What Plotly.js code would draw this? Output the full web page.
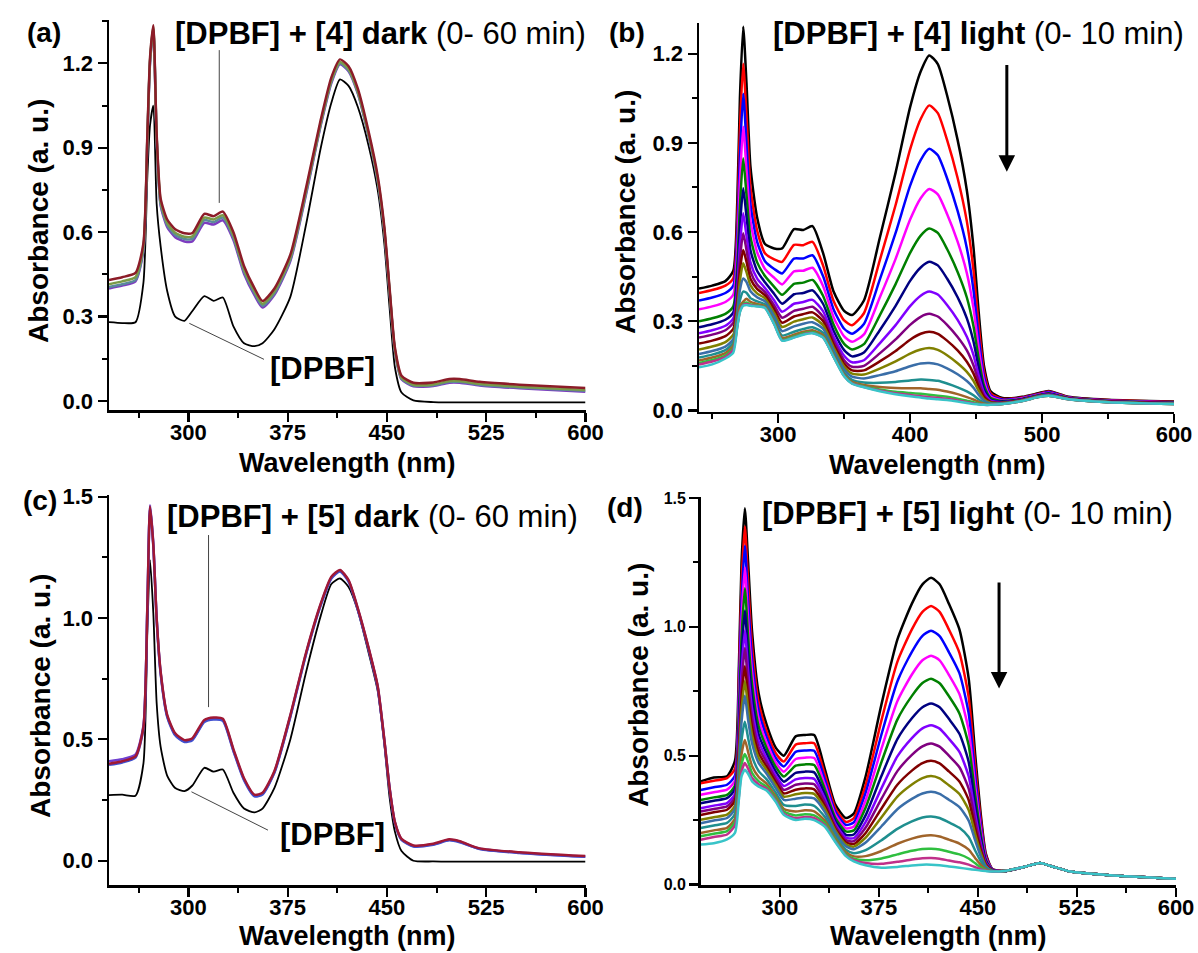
<!DOCTYPE html>
<html>
<head>
<meta charset="utf-8">
<script src="https://cdn.plot.ly/plotly-3.0.1.min.js"></script>
<style>html,body{margin:0;padding:0;background:#fff;}#chart{width:1198px;height:953px;}</style>
</head>
<body>
<div id="chart"></div>
<script>
// Wavelength grid (nm) shared by all spectra
const wavelength = [240, 250, 260, 266, 269, 271, 273.5, 276, 279, 284, 290, 297, 303, 312, 319, 326, 334, 342, 350, 356, 365, 377, 389, 400, 408, 414.5, 421, 428, 436, 443, 448, 452, 456, 461, 470, 485, 497, 505, 520, 550, 600];

// (a) [DPBF] + [4] dark
const a_dpbf   = [.28, .277, .28, .42, .80, .98, 1.05, .70, .55, .39, .30, .285, .32, .373, .356, .368, .265, .205, .195, .205, .255, .37, .63, .90, 1.06, 1.143, 1.12, 1.045, .91, .75, .56, .33, .12, .03, .002, -.004, -.005, -.005, -.005, -.005, -.005];
const a_purple = [.40, .41, .425, .535, .93, 1.20, 1.32, .93, .695, .618, .582, .567, .567, .633, .627, .642, .572, .452, .375, .332, .377, .497, .737, .98, 1.13, 1.197, 1.172, 1.092, .942, .782, .602, .385, .177, .077, .052, .053, .065, .065, .055, .045, .033];
const a_blue   = [.405, .415, .43, .54, .935, 1.205, 1.325, .935, .70, .625, .59, .576, .576, .643, .636, .652, .58, .46, .383, .338, .383, .503, .743, .985, 1.135, 1.20, 1.175, 1.095, .945, .785, .605, .388, .18, .08, .055, .056, .068, .068, .058, .048, .036];
const a_green  = [.415, .425, .44, .55, .94, 1.21, 1.33, .94, .71, .633, .598, .584, .585, .652, .645, .66, .588, .468, .39, .345, .39, .51, .75, .99, 1.14, 1.205, 1.18, 1.10, .95, .79, .61, .392, .183, .083, .058, .059, .071, .071, .061, .051, .039];
const a_wine   = [.43, .44, .455, .56, .95, 1.22, 1.335, .95, .72, .645, .61, .596, .597, .665, .657, .673, .60, .48, .40, .355, .40, .52, .76, 1.00, 1.15, 1.214, 1.19, 1.11, .96, .80, .62, .40, .19, .09, .065, .066, .078, .078, .068, .058, .046];

// (c) [DPBF] + [5] dark
const c_dpbf   = [.27, .272, .268, .40, .95, 1.239, 1.02, .65, .47, .35, .30, .287, .31, .383, .367, .376, .28, .215, .199, .215, .30, .50, .78, 1.01, 1.14, 1.163, 1.128, 1.03, .86, .70, .48, .26, .12, .04, .0, -.003, -.004, -.004, -.004, -.004, -.004];
const c_purple = [.41, .418, .437, .555, 1.05, 1.465, 1.305, .996, .776, .596, .52, .492, .5, .575, .586, .581, .455, .336, .268, .276, .366, .596, .856, 1.056, 1.166, 1.196, 1.153, 1.037, .877, .716, .497, .298, .158, .088, .061, .068, .086, .078, .049, .033, .017];
const c_blue   = [.395, .405, .425, .545, 1.045, 1.455, 1.295, .995, .772, .592, .517, .489, .497, .572, .582, .577, .452, .332, .265, .273, .363, .593, .853, 1.053, 1.163, 1.192, 1.15, 1.034, .874, .714, .495, .296, .156, .086, .059, .066, .084, .076, .048, .032, .016];
const c_wine   = [.40, .41, .43, .55, 1.05, 1.46, 1.30, 1.0, .78, .60, .525, .497, .505, .58, .59, .585, .46, .34, .272, .28, .37, .60, .86, 1.06, 1.17, 1.198, 1.156, 1.04, .88, .72, .50, .30, .16, .09, .063, .07, .088, .08, .051, .035, .019];

// (b) [DPBF] + [4] light, 0-10 min (top to bottom)
const b_black   = [.41, .42, .435, .47, .70, 1.05, 1.29, 1.10, .82, .65, .56, .545, .545, .61, .607, .62, .53, .40, .335, .321, .37, .58, .80, 1.02, 1.14, 1.194, 1.165, 1.06, .91, .74, .55, .33, .15, .065, .042, .046, .058, .066, .046, .036, .03];
const b_red     = [.395, .405, .42, .445, .639, .945, 1.166, .991, .752, .606, .529, .508, .500, .557, .556, .567, .488, .368, .303, .287, .327, .505, .691, .878, .980, 1.026, 1.000, .910, .782, .636, .473, .285, .131, .058, .039, .044, .056, .064, .045, .035, .029];
const b_blue    = [.37, .38, .395, .42, .586, .854, 1.065, .897, .693, .568, .502, .476, .461, .511, .511, .522, .452, .340, .275, .258, .291, .440, .597, .756, .842, .880, .858, .781, .671, .546, .406, .246, .114, .052, .037, .042, .054, .062, .044, .034, .028];
const b_magenta = [.34, .35, .365, .39, .537, .770, .954, .810, .638, .533, .476, .446, .424, .468, .470, .480, .419, .314, .249, .231, .256, .380, .510, .642, .714, .745, .727, .661, .568, .462, .345, .209, .099, .047, .034, .041, .053, .060, .043, .033, .027];
const b_green   = [.30, .31, .325, .35, .488, .687, .848, .725, .584, .499, .452, .416, .389, .426, .430, .439, .386, .289, .224, .205, .223, .320, .425, .530, .588, .612, .597, .543, .466, .380, .284, .174, .084, .042, .032, .039, .051, .058, .042, .032, .026];
const b_navy    = [.28, .29, .305, .33, .448, .617, .747, .652, .539, .470, .431, .392, .359, .391, .395, .404, .359, .268, .203, .182, .195, .270, .352, .436, .481, .500, .488, .444, .381, .310, .233, .144, .071, .037, .030, .038, .050, .056, .041, .031, .025];
const b_violet  = [.26, .27, .285, .31, .411, .555, .663, .587, .498, .444, .412, .370, .332, .359, .365, .372, .334, .249, .184, .162, .169, .226, .287, .351, .386, .400, .390, .355, .305, .248, .187, .117, .060, .033, .028, .036, .049, .055, .040, .030, .024];
const b_purple  = [.245, .255, .27, .295, .384, .508, .596, .539, .468, .424, .398, .353, .312, .335, .342, .349, .315, .234, .169, .147, .150, .192, .239, .288, .315, .325, .316, .288, .247, .202, .152, .097, .051, .030, .027, .035, .048, .054, .040, .030, .024];
const b_darkred = [.225, .235, .25, .275, .362, .470, .54, .500, .443, .409, .387, .340, .295, .316, .324, .330, .301, .223, .158, .135, .135, .165, .200, .238, .258, .265, .258, .235, .202, .164, .125, .080, .045, .028, .026, .035, .048, .053, .040, .030, .024];
const b_olive   = [.205, .215, .23, .255, .342, .436, .495, .465, .421, .394, .377, .327, .281, .299, .307, .313, .287, .212, .147, .124, .121, .141, .165, .191, .205, .210, .204, .186, .159, .130, .100, .066, .038, .026, .025, .034, .047, .052, .039, .029, .023];
const b_steel   = [.19, .20, .215, .24, .324, .405, .444, .432, .401, .381, .367, .317, .267, .283, .292, .297, .275, .203, .138, .114, .108, .119, .132, .149, .158, .160, .155, .142, .122, .099, .077, .052, .033, .024, .024, .033, .046, .052, .039, .029, .023];
const b_teal    = [.178, .188, .203, .228, .303, .370, .40, .396, .378, .367, .357, .304, .252, .265, .274, .280, .261, .192, .127, .103, .094, .093, .096, .101, .104, .103, .100, .091, .078, .064, .051, .037, .026, .022, .023, .033, .046, .051, .038, .028, .022];
const b_brown   = [.168, .178, .193, .218, .292, .350, .366, .376, .365, .358, .351, .297, .244, .255, .265, .270, .253, .186, .121, .096, .086, .079, .076, .075, .075, .072, .070, .064, .055, .045, .037, .029, .023, .020, .022, .032, .045, .05, .038, .028, .022];
const b_green2  = [.16, .17, .185, .21, .285, .334, .358, .363, .357, .353, .347, .293, .238, .249, .259, .264, .248, .182, .117, .093, .081, .071, .063, .059, .056, .053, .050, .046, .040, .033, .028, .023, .020, .019, .022, .032, .045, .05, .038, .028, .022];
const b_pink    = [.155, .165, .18, .205, .282, .333, .355, .358, .354, .351, .346, .291, .236, .246, .256, .261, .246, .181, .116, .091, .079, .067, .058, .052, .048, .045, .043, .039, .034, .028, .024, .021, .019, .019, .022, .032, .045, .05, .038, .028, .022];
const b_cyan    = [.145, .155, .175, .195, .28, .33, .352, .355, .352, .35, .345, .29, .235, .245, .255, .26, .245, .18, .115, .09, .078, .065, .055, .048, .044, .04, .038, .035, .03, .025, .022, .02, .019, .019, .022, .032, .045, .05, .038, .028, .022];

// (d) [DPBF] + [5] light, 0-10 min (top to bottom)
const d_black   = [.40, .415, .42, .48, .85, 1.25, 1.46, 1.25, .98, .74, .62, .53, .50, .575, .58, .58, .45, .31, .258, .275, .42, .70, .95, 1.09, 1.165, 1.19, 1.165, 1.09, .99, .80, .50, .28, .12, .06, .052, .068, .083, .072, .05, .036, .022];
const d_red     = [.393, .403, .413, .448, .799, 1.169, 1.39, 1.170, .923, .705, .595, .509, .477, .543, .548, .548, .428, .296, .243, .257, .386, .638, .864, .990, 1.058, 1.081, 1.058, .990, .899, .727, .457, .258, .113, .059, .052, .068, .083, .072, .05, .036, .022];
const d_blue    = [.367, .377, .387, .422, .754, 1.097, 1.315, 1.099, .873, .674, .573, .491, .458, .515, .520, .519, .409, .283, .231, .241, .357, .583, .788, .903, .965, .985, .964, .902, .820, .664, .418, .238, .107, .058, .052, .068, .083, .072, .05, .036, .022];
const d_magenta = [.348, .358, .368, .403, .709, 1.025, 1.23, 1.028, .823, .642, .551, .473, .438, .487, .492, .491, .389, .271, .218, .225, .327, .528, .711, .815, .870, .888, .870, .814, .739, .599, .380, .219, .102, .057, .052, .068, .083, .072, .05, .036, .022];
const d_green   = [.328, .338, .348, .383, .667, .958, 1.15, .961, .776, .613, .530, .456, .419, .461, .466, .464, .371, .259, .206, .210, .299, .476, .640, .732, .782, .798, .781, .731, .664, .540, .344, .200, .096, .056, .052, .068, .083, .072, .05, .036, .022];
const d_navy    = [.315, .325, .335, .37, .622, .886, 1.063, .891, .726, .582, .508, .438, .399, .433, .438, .435, .351, .246, .193, .194, .269, .422, .564, .645, .688, .702, .688, .643, .585, .476, .306, .181, .090, .056, .052, .068, .083, .072, .05, .036, .022];
const d_violet  = [.296, .306, .316, .351, .583, .823, .986, .829, .682, .555, .489, .422, .382, .408, .413, .410, .334, .235, .182, .180, .243, .374, .497, .568, .606, .618, .605, .566, .515, .420, .272, .164, .085, .055, .052, .068, .083, .072, .05, .036, .022];
const d_purple  = [.283, .293, .303, .338, .549, .770, .918, .776, .645, .532, .473, .409, .367, .387, .392, .389, .320, .226, .172, .168, .221, .333, .440, .503, .536, .547, .535, .500, .455, .372, .244, .149, .081, .054, .052, .068, .083, .072, .05, .036, .022];
const d_darkred = [.27, .28, .29, .325, .518, .720, .847, .727, .610, .510, .457, .396, .353, .368, .373, .369, .306, .217, .164, .157, .200, .295, .387, .442, .471, .480, .470, .439, .400, .328, .217, .136, .077, .054, .052, .068, .083, .072, .05, .036, .022];
const d_olive   = [.251, .261, .271, .306, .491, .676, .79, .683, .579, .491, .444, .385, .341, .350, .355, .352, .295, .210, .156, .147, .182, .261, .341, .388, .413, .421, .412, .385, .351, .289, .194, .124, .073, .053, .052, .068, .083, .072, .05, .036, .022];
const d_steel   = [.238, .248, .258, .293, .462, .631, .732, .638, .547, .471, .430, .373, .328, .333, .338, .334, .282, .202, .148, .137, .163, .226, .292, .332, .353, .360, .352, .329, .300, .248, .170, .111, .069, .053, .052, .068, .083, .072, .05, .036, .022];
const d_teal    = [.219, .229, .239, .274, .417, .559, .632, .568, .497, .440, .408, .355, .309, .305, .310, .305, .263, .189, .135, .121, .133, .172, .216, .245, .260, .264, .258, .241, .220, .184, .131, .092, .063, .052, .052, .068, .083, .072, .05, .036, .022];
const d_brown   = [.20, .21, .22, .255, .383, .505, .561, .514, .459, .417, .391, .341, .293, .283, .288, .284, .248, .180, .125, .109, .110, .130, .158, .178, .188, .191, .186, .174, .159, .135, .102, .077, .059, .051, .052, .068, .083, .072, .05, .036, .022];
const d_green2  = [.187, .197, .207, .242, .359, .466, .506, .476, .432, .400, .379, .332, .283, .268, .273, .268, .238, .173, .118, .100, .094, .101, .117, .131, .138, .139, .136, .127, .117, .101, .082, .067, .056, .051, .052, .068, .083, .072, .05, .036, .022];
const d_pink    = [.174, .184, .194, .229, .342, .439, .471, .449, .413, .388, .371, .325, .275, .257, .262, .258, .230, .168, .113, .094, .083, .080, .088, .097, .102, .103, .100, .093, .086, .077, .067, .059, .054, .05, .052, .068, .083, .072, .05, .036, .022];
const d_cyan    = [.155, .16, .175, .20, .33, .42, .445, .43, .40, .38, .365, .32, .27, .25, .255, .25, .225, .165, .11, .09, .075, .065, .068, .074, .077, .077, .075, .07, .065, .06, .057, .054, .052, .05, .052, .068, .083, .072, .05, .036, .022];

const lightColors = ['#000000','#ff0000','#0000ff','#ff00ff','#008000','#000080','#8000ff','#800080','#800000','#808000','#3a6ea8','#1f8f8f','#a0642a','#2fbf3f','#c0308a','#38c4c8'];
const bSeries = [b_black,b_red,b_blue,b_magenta,b_green,b_navy,b_violet,b_purple,b_darkred,b_olive,b_steel,b_teal,b_brown,b_green2,b_pink,b_cyan];
const dSeries = [d_black,d_red,d_blue,d_magenta,d_green,d_navy,d_violet,d_purple,d_darkred,d_olive,d_steel,d_teal,d_brown,d_green2,d_pink,d_cyan];

const FONT = 'Liberation Sans, Arial, sans-serif';
const LW = 2.5;

function tr(y, color, xa, ya, w) {
  return {x: wavelength, y: y, type: 'scatter', mode: 'lines', xaxis: xa, yaxis: ya,
          line: {color: color, width: w || LW, shape: 'spline', smoothing: 0.6}, hoverinfo: 'skip'};
}

const traces = [];
// (a)
traces.push(tr(a_dpbf, '#000000', 'x', 'y', 1.8));
traces.push(tr(a_purple, '#7d3cc0', 'x', 'y'));
traces.push(tr(a_blue, '#5a8a9a', 'x', 'y'));
traces.push(tr(a_green, '#7a9a48', 'x', 'y'));
traces.push(tr(a_wine, '#8c1c28', 'x', 'y'));
// (b)
bSeries.forEach((s, i) => traces.push(tr(s, lightColors[i], 'x2', 'y2')));
// (c)
traces.push(tr(c_dpbf, '#000000', 'x3', 'y3', 1.8));
traces.push(tr(c_purple, '#7040d0', 'x3', 'y3'));
traces.push(tr(c_blue, '#4050d0', 'x3', 'y3'));
traces.push(tr(c_wine, '#a01834', 'x3', 'y3'));
// (d)
dSeries.forEach((s, i) => traces.push(tr(s, lightColors[i], 'x4', 'y4')));

const W = 1198, H = 953;
function px(x) { return x / W; }
function py(y) { return 1 - y / H; }

function xAxis(d0, d1, anchor, dtick, mdt) {
  return {domain: [px(d0), px(d1)], range: [240, 600], anchor: anchor,
    showline: true, linewidth: 2.5, linecolor: '#000', mirror: false,
    ticks: 'outside', ticklen: 9, tickwidth: 2.2, tickcolor: '#000',
    tick0: 0, dtick: dtick, showgrid: false, zeroline: false, ticklabelstandoff: -8,
    minor: {dtick: mdt, ticks: 'outside', ticklen: 5, tickwidth: 2, tickcolor: '#000', showgrid: false},
    tickfont: {family: FONT, size: 22, color: '#000', weight: 'bold'}};
}
function yAxis(top, bottom, anchor, range, dtick, mdt, fs) {
  return {domain: [py(bottom), py(top)], range: range, anchor: anchor,
    showline: true, linewidth: 2.5, linecolor: '#000', mirror: false,
    ticks: 'outside', ticklen: 9, tickwidth: 2.2, tickcolor: '#000',
    tick0: 0, dtick: dtick, tickformat: '.1f', showgrid: false, zeroline: false,
    minor: {dtick: mdt, ticks: 'outside', ticklen: 5, tickwidth: 2, tickcolor: '#000', showgrid: false},
    tickfont: {family: FONT, size: fs, color: '#000', weight: 'bold'}};
}

function txt(text, x, y, size, extra) {
  return Object.assign({text: text, xref: 'paper', yref: 'paper', x: px(x), y: py(y),
    xanchor: 'center', yanchor: 'middle', showarrow: false,
    font: {family: FONT, size: size, color: '#000'}}, extra || {});
}

const annotations = [
  txt('<b>(a)</b>', 44, 33, 28),
  txt('<b>(b)</b>', 627, 33, 28),
  txt('<b>(c)</b>', 40, 500, 28),
  txt('<b>(d)</b>', 625, 507, 28),
  txt('<b>[DPBF] + [4] dark</b> (0- 60 min)', 380, 34, 31),
  txt('<b>[DPBF] + [4] light</b> (0- 10 min)', 978, 34, 31),
  txt('<b>[DPBF] + [5] dark</b> (0- 60 min)', 372, 516, 31),
  txt('<b>[DPBF] + [5] light</b> (0- 10 min)', 967, 513, 31),
  txt('<b>Wavelength (nm)</b>', 347, 463, 27),
  txt('<b>Wavelength (nm)</b>', 937, 465, 27),
  txt('<b>Wavelength (nm)</b>', 347, 936, 27),
  txt('<b>Wavelength (nm)</b>', 938, 936, 27),
  txt('<b>Absorbance (a. u.)</b>', 38, 221, 28, {textangle: -90}),
  txt('<b>Absorbance (a. u.)</b>', 626, 212, 28, {textangle: -90}),
  txt('<b>Absorbance (a. u.)</b>', 40, 696, 28, {textangle: -90}),
  txt('<b>Absorbance (a. u.)</b>', 638, 685, 28, {textangle: -90}),
  {text: '<b>[DPBF]</b>', xref: 'x', yref: 'y', x: 401, y: 0.117, showarrow: false,
   font: {family: FONT, size: 31, color: '#000'}},
  {text: '<b>[DPBF]</b>', xref: 'x3', yref: 'y3', x: 408.5, y: 0.11, showarrow: false,
   font: {family: FONT, size: 31, color: '#000'}},
  {text: '', xref: 'x2', yref: 'y2', x: 473.3, y: 0.803, axref: 'x2', ayref: 'y2', ax: 473.3, ay: 1.167,
   showarrow: true, arrowhead: 2, arrowsize: 1.1, arrowwidth: 3, arrowcolor: '#000'},
  {text: '', xref: 'x4', yref: 'y4', x: 466, y: 0.761, axref: 'x4', ayref: 'y4', ax: 466, ay: 1.178,
   showarrow: true, arrowhead: 2, arrowsize: 1.1, arrowwidth: 3, arrowcolor: '#000'}
];

const shapes = [
  {type: 'line', xref: 'x', yref: 'y', x0: 323.3, y0: 1.247, x1: 323.3, y1: 0.704, line: {color: '#444', width: 1}},
  {type: 'line', xref: 'x', yref: 'y', x0: 300.7, y0: 0.276, x1: 357.1, y1: 0.148, line: {color: '#444', width: 1}},
  {type: 'line', xref: 'x3', yref: 'y3', x0: 315.2, y0: 1.342, x1: 315.2, y1: 0.633, line: {color: '#444', width: 1}},
  {type: 'line', xref: 'x3', yref: 'y3', x0: 302.3, y0: 0.284, x1: 360.1, y1: 0.126, line: {color: '#444', width: 1}}
];

const layout = {
  width: W, height: H, margin: {l: 0, r: 0, t: 0, b: 0},
  paper_bgcolor: '#fff', plot_bgcolor: 'rgba(0,0,0,0)', showlegend: false,
  xaxis:  xAxis(109, 585.5, 'y', 75, 37.5),
  yaxis:  yAxis(20, 410, 'x', [-0.032, 1.354], 0.3, 0.15, 22),
  xaxis2: xAxis(699, 1174, 'y2', 100, 50),
  yaxis2: yAxis(23.3, 411.7, 'x2', [-0.004, 1.302], 0.3, 0.15, 22),
  xaxis3: xAxis(109, 585.5, 'y3', 75, 37.5),
  yaxis3: yAxis(495, 885, 'x3', [-0.1, 1.507], 0.5, 0.25, 22),
  xaxis4: xAxis(700.6, 1176, 'y4', 75, 37.5),
  yaxis4: yAxis(496.7, 885, 'x4', [-0.002, 1.505], 0.5, 0.25, 16),
  annotations: annotations, shapes: shapes
};

Plotly.newPlot('chart', traces, layout, {displayModeBar: false, staticPlot: true});
</script>
</body>
</html>
